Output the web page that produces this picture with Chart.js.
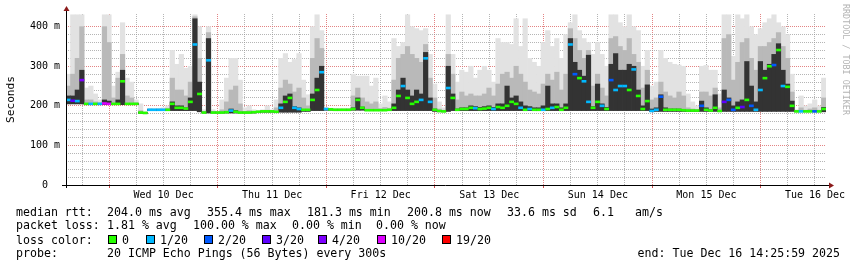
<!DOCTYPE html>
<html><head><meta charset="utf-8">
<script src="https://cdn.jsdelivr.net/npm/chart.js@4"></script>
<style>
html,body{margin:0;padding:0;background:#fff;}
#wrap{position:relative;width:857px;height:267px;overflow:hidden;font-family:"DejaVu Sans Mono",monospace;background:#fff;}
#wrap canvas{position:absolute;left:0;top:0;}
.t{position:absolute;font-size:11.6px;line-height:14px;white-space:pre;color:#000;}
.box{position:absolute;box-sizing:border-box;width:9px;height:9px;border:1px solid #000;}
#wm{position:absolute;left:841px;top:4px;writing-mode:vertical-rl;font-size:8.4px;line-height:10px;color:#b4b4b4;white-space:pre;}
</style></head><body>
<div id="wrap">
<canvas id="c" width="857" height="267"></canvas>
<div id="wm">RRDTOOL / TOBI OETIKER</div>
<div id="legend"></div>
</div>
<script>
// ---- data (hourly samples, start Tue Dec 9 14:25:59, values in ms) ----
const med = [
215,213,212,265,205,205,205,205,206,205,
205,205,262,205,205,205,183,182,190,190,
190,190,190,205,195,195,193,210,355,230,
183,315,183,183,183,184,188,185,183,183,
183,184,185,186,186,186,185,195,210,220,
195,192,190,190,215,240,285,192,191,190,
190,190,190,192,215,195,189,189,189,189,
189,190,195,225,250,220,205,210,215,320,
210,190,187,186,245,220,190,192,192,195,
194,192,193,195,192,197,195,200,210,205,
195,190,192,190,190,190,192,195,197,190,
195,355,280,270,262,210,195,210,200,192,
265,240,250,250,240,292,225,192,212,187,
190,223,190,190,190,190,189,188,188,188,
200,190,188,195,187,210,215,190,195,197,
215,200,190,240,270,300,303,341,250,248,
200,186,186,186,186,186,186,192];
const darkTop = [
225,225,240,290,206,206,206,206,215,212,
206,215,290,206,206,206,184,183,191,191,
191,191,191,210,200,200,195,220,420,260,
184,370,184,184,184,186,192,188,184,184,
184,185,186,187,187,187,186,205,225,230,
198,195,191,191,230,270,300,193,192,191,
191,191,191,195,220,197,190,190,190,190,
190,191,205,240,270,240,225,240,230,335,
220,192,188,187,300,230,192,195,195,200,
198,196,198,200,196,205,205,250,220,225,
210,200,198,195,195,200,250,205,205,195,
205,370,310,290,275,328,198,255,205,196,
305,332,290,290,305,300,240,200,253,192,
195,228,195,192,192,192,190,189,189,189,
212,195,190,228,188,240,220,200,210,215,
312,250,210,312,290,305,330,357,290,255,
212,187,187,187,187,187,187,196];
const midTop = [
250,280,320,400,215,215,210,208,400,360,
220,270,330,225,220,208,188,184,192,192,
192,192,194,270,240,240,225,260,425,320,
186,385,186,185,190,210,240,250,205,186,
188,186,187,188,189,188,195,245,265,255,
235,245,220,200,320,370,345,194,193,192,
192,192,192,225,245,220,210,205,210,193,
196,194,265,320,330,350,330,320,310,355,
270,220,192,189,330,280,215,235,225,230,
225,225,230,245,225,255,280,285,270,300,
280,260,240,235,230,255,280,265,285,240,
280,395,370,340,320,340,250,280,245,225,
370,375,350,340,370,330,310,245,290,215,
220,260,235,225,220,235,225,195,192,190,
235,235,225,245,195,370,380,265,310,360,
370,320,290,350,350,360,370,385,350,320,
235,187,195,189,192,195,189,220];
const maxTop = [
280,430,430,430,245,250,230,215,430,430,
250,285,410,270,260,215,205,185,193,192,
193,195,200,340,305,330,295,300,430,400,
190,400,190,186,215,270,320,320,265,195,
200,190,188,190,200,190,215,320,332,310,
317,332,265,228,400,430,390,195,194,193,
193,193,193,280,275,275,275,250,270,205,
225,210,370,350,360,430,400,395,390,395,
330,255,210,195,430,330,260,290,285,300,
270,290,300,290,260,370,360,360,355,420,
350,420,320,310,300,360,390,350,370,320,
380,410,430,390,370,360,330,360,330,300,
430,430,410,400,430,400,390,300,340,250,
260,340,320,310,305,303,300,230,210,200,
300,302,290,290,230,430,430,325,430,420,
430,400,380,395,410,420,430,410,400,380,
280,190,225,200,205,215,200,270];
const minRtt = [
205,205,205,205,203,203,203,203,203,203,
203,203,203,203,203,203,181,181,188,188,
188,188,188,188,188,188,188,188,188,185,
182,182,182,182,182,182,182,182,182,182,
182,182,183,184,184,184,184,184,184,184,
184,184,186,186,188,188,188,189,189,189,
189,189,189,189,189,189,188,188,188,188,
188,188,188,188,188,188,188,188,188,188,
188,186,185,185,186,188,188,188,188,188,
188,188,188,188,188,188,188,188,188,188,
188,188,188,188,188,188,188,188,188,188,
188,188,188,188,188,188,188,188,188,188,
188,188,188,188,188,188,188,188,188,186,
186,186,186,186,186,186,186,186,186,186,
186,186,186,186,186,186,186,186,186,186,
186,186,186,186,186,186,186,186,186,186,
186,185,185,185,185,185,185,185];
const loss = [
1,3,1,4,0,1,0,1,10,10,
0,0,0,0,0,0,0,0,1,1,
1,1,0,0,0,0,0,0,1,0,
0,1,0,0,0,0,1,0,0,0,
0,0,0,0,0,0,0,1,0,0,
1,1,0,0,0,0,1,1,0,0,
0,0,0,0,0,0,0,0,0,0,
0,0,0,0,1,0,0,0,1,1,
1,0,0,0,1,0,0,0,0,0,
1,0,0,0,1,0,0,0,0,0,
1,0,1,0,0,1,0,1,0,0,
0,1,2,0,1,1,0,0,1,0,
2,1,1,1,0,1,0,0,0,1,
1,2,0,0,0,0,0,0,0,0,
2,0,0,0,0,3,2,2,0,3,
0,2,1,1,0,0,2,0,1,0,
0,0,1,0,0,2,0,0];
const lossLevels = [0, 1, 2, 3, 4, 10, 19];
const lossLabels = ['0', '1/20', '2/20', '3/20', '4/20', '10/20', '19/20'];
const lossColors = ['#26ff00', '#00b8ff', '#0059ff', '#5e00ff', '#7e00ff', '#dd00ff', '#ff0000'];
const dayLabels = ['Wed 10 Dec', 'Thu 11 Dec', 'Fri 12 Dec', 'Sat 13 Dec', 'Sun 14 Dec', 'Mon 15 Dec', 'Tue 16 Dec'];
const yTicks = [0, 100, 200, 300, 400];
const spanHours = 168;
const firstGridHour = (18 * 3600 - (14 * 3600 + 25 * 60 + 59)) / 3600; // Dec 9 18:00

// ---- legend text ----
const legendRows = [
  {top: 204.5, items: [['median rtt:', 16], ['204.0 ms avg', 107], ['355.4 ms max', 207], ['181.3 ms min', 307], ['200.8 ms now', 407], ['33.6 ms sd', 507], ['6.1', 593], ['am/s', 635]]},
  {top: 217.8, items: [['packet loss:', 16], ['1.81 % avg', 107], ['100.00 % max', 193], ['0.00 % min', 292], ['0.00 % now', 376]]},
  {top: 232.6, items: [['loss color:', 16]]},
  {top: 246, items: [['probe:', 16], ['20 ICMP Echo Pings (56 Bytes) every 300s', 107]]}
];
const lossBoxX = [108, 146, 204, 262, 318, 377, 442];
const lg = document.getElementById('legend');
legendRows.forEach(r => r.items.forEach(([txt, x]) => {
  const d = document.createElement('div'); d.className = 't';
  d.style.left = x + 'px'; d.style.top = r.top + 'px'; d.textContent = txt; lg.appendChild(d);
}));
lossLabels.forEach((lab, i) => {
  const b = document.createElement('div'); b.className = 'box';
  b.style.left = lossBoxX[i] + 'px'; b.style.top = '235px'; b.style.background = lossColors[i]; lg.appendChild(b);
  const d = document.createElement('div'); d.className = 't';
  d.style.left = (lossBoxX[i] + 14) + 'px'; d.style.top = '232.6px'; d.textContent = lab; lg.appendChild(d);
});
{
  const d = document.createElement('div'); d.className = 't';
  d.style.right = (857 - 840) + 'px'; d.style.top = '246px'; d.textContent = 'end: Tue Dec 16 14:25:59 2025'; lg.appendChild(d);
}

// ---- chart ----
const MONO = 'DejaVu Sans Mono';
Chart.defaults.font.family = MONO;
Chart.defaults.color = '#000';
const lossColor = l => lossColors[lossLevels.indexOf(l)];
const bars = top => top.map((v, i) => ({x: i + 0.5, y: [minRtt[i], v]}));
const majorX = new Set(), noonX = new Map();

const barCommon = {type: 'bar', grouped: false, barPercentage: 1, categoryPercentage: 1, borderWidth: 0};

const axesPlugin = {
  id: 'rrdAxes',
  afterDraw(chart) {
    const {ctx, chartArea: {left, right, top, bottom}} = chart;
    const xl = Math.round(left) + 0.5, yb = Math.round(bottom) + 0.5;
    ctx.save();
    ctx.strokeStyle = '#000'; ctx.lineWidth = 1;
    ctx.beginPath();
    ctx.moveTo(left - 4, yb); ctx.lineTo(right + 3, yb);
    ctx.moveTo(xl, bottom + 3); ctx.lineTo(xl, top - 3);
    ctx.stroke();
    ctx.fillStyle = '#8b1a1a';
    ctx.beginPath(); ctx.moveTo(right + 3, yb - 3); ctx.lineTo(right + 8, yb); ctx.lineTo(right + 3, yb + 3); ctx.closePath(); ctx.fill();
    ctx.beginPath(); ctx.moveTo(xl - 3, top - 3); ctx.lineTo(xl, top - 8); ctx.lineTo(xl + 3, top - 3); ctx.closePath(); ctx.fill();
    ctx.restore();
  }
};

new Chart(document.getElementById('c'), {
  type: 'bar',
  data: {
    datasets: [
      {type: 'line', data: med.map((v, i) => ({x: i + 0.5, y: v})), showLine: false,
       pointStyle: 'line', pointRadius: 2.4, pointBorderWidth: 2.6,
       pointBorderColor: c => lossColor(loss[c.dataIndex]), pointBackgroundColor: c => lossColor(loss[c.dataIndex]), order: 0},
      Object.assign({data: bars(darkTop), backgroundColor: '#333333', order: 1}, barCommon),
      Object.assign({data: bars(midTop), backgroundColor: '#b9b9b9', order: 2}, barCommon),
      Object.assign({data: bars(maxTop), backgroundColor: '#e2e2e2', order: 3}, barCommon)
    ]
  },
  options: {
    responsive: false, animation: false, devicePixelRatio: 1, events: [],
    layout: {padding: {left: 0, top: 14, right: 31, bottom: 62}},
    plugins: {legend: {display: false}, tooltip: {enabled: false}},
    scales: {
      x: {
        type: 'linear', min: 0, max: spanHours, offset: false,
        afterBuildTicks(s) {
          const t = []; majorX.clear(); noonX.clear();
          for (let k = 0; firstGridHour + 6 * k <= spanHours; k++) {
            const v = firstGridHour + 6 * k;
            if (k % 4 === 1) majorX.add(v);
            if (k % 4 === 3) noonX.set(v, dayLabels[(k - 3) / 4]);
            t.push({value: v});
          }
          s.ticks = t;
        },
        afterFit(s) { s.height = 20; },
        ticks: {autoSkip: false, maxRotation: 0, minRotation: 0, padding: 1,
          font: {family: MONO, size: 10}, color: '#000',
          callback: v => noonX.get(v) || ''},
        grid: {offset: false, drawTicks: true, tickLength: 3,
          color: c => c.tick && majorX.has(c.tick.value) ? 'rgba(222,110,110,0.85)' : 'rgba(150,150,150,0.7)',
          tickColor: c => c.tick && majorX.has(c.tick.value) ? 'rgba(200,60,60,0.9)' : 'rgba(0,0,0,0)'},
        border: {display: false, dash: [1, 1]}
      },
      y: {
        min: 0, max: 432,
        afterBuildTicks(s) { s.ticks = s.ticks.filter(t => t.value % 20 === 0); },
        afterFit(s) { s.width = 66; },
        ticks: {stepSize: 20, autoSkip: false, padding: 6, font: {family: MONO, size: 10}, color: '#000',
          callback: v => yTicks.includes(v) ? (v === 0 ? '0  ' : v + ' m') : ''},
        grid: {drawTicks: false,
          color: c => c.tick.value === 0 ? 'rgba(0,0,0,0)' : (c.tick.value % 100 === 0 ? 'rgba(222,110,110,0.85)' : 'rgba(150,150,150,0.7)')},
        border: {display: false, dash: [1, 1]},
        title: {display: true, text: 'Seconds', font: {family: MONO, size: 11.2}, color: '#000', padding: {top: 4, bottom: 0}}
      }
    }
  },
  plugins: [axesPlugin]
});
</script>
</body></html>
